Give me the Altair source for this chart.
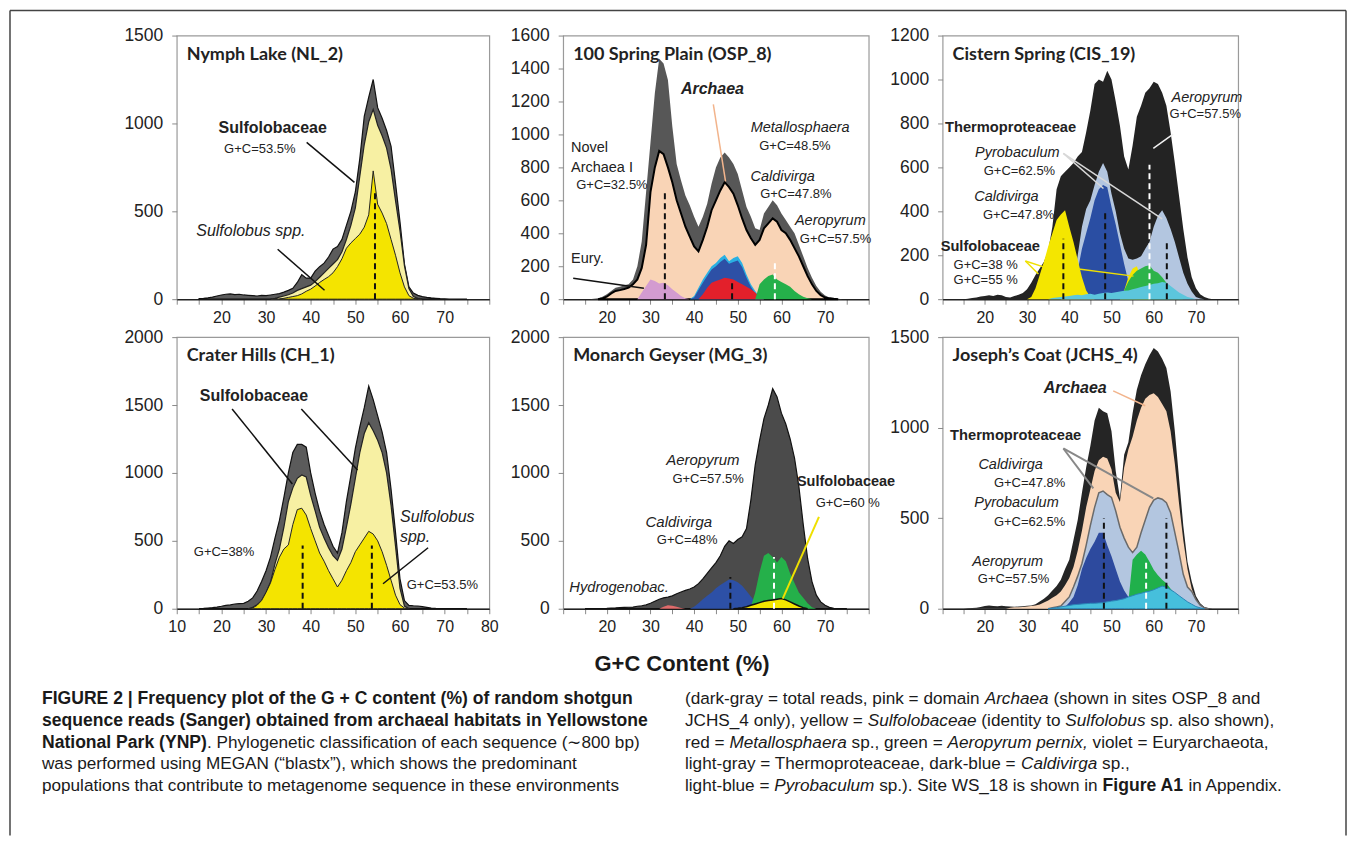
import altair as alt
import pandas as pd

FONT = "Liberation Sans"
TITLE_FONT = "Lato"

# ---------------- data: (first G+C %, counts at 1 % steps) ----------------
NL_TOTAL = (15, [3, 5, 8, 12, 18, 24, 28, 30, 26, 28, 24, 22, 20, 18, 22, 20, 24, 28, 32, 40,
                 50, 62, 95, 140, 120, 120, 160, 185, 205, 240, 285, 300, 340, 420, 500, 610, 800,
                 1040, 1150, 1250, 1090, 1030, 960, 870, 660, 440, 200, 70, 35, 22, 15, 10, 7, 5,
                 3, 2, 1, 1, 0, 0, 0])
NL_SULFOLOBACEAE = (31, [0, 5, 12, 18, 25, 35, 50, 60, 70, 80, 100, 125, 150, 175, 200, 225, 270,
                         340, 420, 520, 700, 880, 1010, 1080, 990, 930, 860, 740, 560, 390, 190,
                         60, 15, 5, 0])
NL_SULFOLOBUS = (33, [0, 5, 10, 15, 20, 30, 45, 57, 75, 95, 112, 128, 150, 185, 230, 290, 320, 345,
                      370, 410, 480, 730, 540, 490, 430, 340, 250, 150, 70, 20, 5, 0])

OSP_TOTAL = (15, [0, 0, 2, 5, 15, 30, 50, 70, 75, 85, 90, 120, 200, 350, 650, 950, 1250, 1460,
                  1430, 1330, 1050, 820, 720, 630, 570, 500, 440, 500, 580, 700, 800, 860, 890, 860,
                  820, 760, 660, 560, 500, 430, 420, 520, 560, 600, 570, 520, 480, 440, 400, 330,
                  260, 190, 130, 80, 45, 22, 10, 5, 2, 0, 0])
OSP_ARCHAEA = (18, [0, 5, 15, 35, 50, 55, 62, 70, 90, 120, 190, 330, 650, 800, 900, 880, 800, 710,
                    600, 520, 440, 380, 320, 290, 360, 440, 540, 600, 660, 710, 680, 640, 570, 490,
                    420, 370, 330, 360, 430, 460, 490, 470, 420, 400, 360, 310, 260, 200, 140, 90,
                    50, 25, 10, 5, 2, 0])
OSP_EURY = (27, [0, 40, 80, 120, 110, 95, 100, 85, 60, 40, 20, 5, 0])
OSP_PYROBACULUM = (39, [0, 20, 70, 120, 160, 200, 220, 250, 270, 230, 250, 260, 220, 150, 90, 50,
                        15, 0])
OSP_CALDIVIRGA = (39, [0, 10, 55, 100, 140, 180, 200, 225, 245, 215, 225, 235, 195, 130, 75, 35,
                       10, 0])
OSP_METALLO = (41, [0, 30, 70, 100, 110, 120, 130, 125, 120, 105, 90, 75, 60, 40, 15, 0])
OSP_AEROPYRUM = (54, [0, 90, 120, 140, 150, 120, 105, 90, 75, 50, 30, 15, 5, 0])

CIS_TOTAL = (15, [0, 2, 5, 8, 12, 15, 18, 15, 20, 18, 10, 8, 15, 20, 28, 45, 75, 110, 140, 170,
                  220, 330, 500, 560, 580, 600, 620, 650, 670, 760, 860, 980, 1000, 990, 1040, 1000,
                  900, 790, 650, 590, 700, 830, 880, 940, 960, 990, 980, 940, 880, 760, 620, 470,
                  320, 190, 100, 50, 22, 10, 3, 0, 0])
CIS_THERMO = (38, [0, 5, 15, 80, 200, 330, 410, 450, 520, 580, 620, 580, 480, 400, 300, 230, 185,
                   180, 185, 195, 230, 260, 330, 380, 405, 370, 320, 260, 190, 120, 70, 35, 10, 3, 0])
CIS_CALDIVIRGA = (39, [0, 20, 60, 130, 230, 300, 370, 450, 500, 520, 510, 420, 340, 250, 160, 80,
                       30, 0])
CIS_SULFO = (30, [0, 10, 50, 110, 170, 240, 300, 360, 385, 405, 330, 260, 180, 100, 40, 10, 0, 0,
                  0, 0, 0, 0, 0, 40, 100, 140, 150, 100, 30, 0])
CIS_AEROPYRUM = (52, [0, 40, 80, 110, 130, 140, 150, 155, 130, 120, 100, 75, 50, 25, 5, 0])
CIS_PYROBACULUM = (35, [0, 5, 8, 10, 12, 15, 18, 20, 18, 22, 25, 20, 25, 28, 30, 28, 32, 35, 38,
                        40, 45, 50, 55, 60, 65, 70, 72, 78, 75, 60, 45, 30, 20, 10, 5, 0])

CH_TOTAL = (15, [0, 2, 5, 8, 12, 18, 25, 28, 35, 38, 40, 55, 80, 130, 200, 280, 380, 520, 650, 820,
                 1000, 1150, 1210, 1210, 1190, 1000, 850, 720, 620, 540, 460, 410, 560, 790, 980,
                 1180, 1340, 1480, 1640, 1540, 1420, 1300, 1150, 880, 560, 220, 60, 25, 22, 20, 15,
                 10, 5, 2, 0, 0, 0, 0, 0, 0, 0])
CH_SULFOLOBACEAE = (26, [0, 10, 30, 60, 120, 196, 330, 440, 600, 790, 890, 960, 985, 970, 834, 720,
                         600, 520, 450, 390, 356, 440, 600, 770, 960, 1150, 1290, 1370, 1310, 1240,
                         1150, 1000, 760, 460, 150, 20, 0])
CH_SULFOLOBUS = (26, [0, 5, 25, 60, 120, 190, 290, 380, 440, 470, 620, 730, 740, 690, 590, 500, 410,
                      350, 280, 220, 160, 210, 280, 340, 420, 470, 520, 570, 550, 500, 420, 320,
                      210, 100, 30, 5, 0])

MG_TOTAL = (15, [0, 0, 0, 0, 0, 2, 5, 6, 8, 10, 11, 12, 18, 22, 28, 40, 55, 70, 80, 85, 95, 110,
                 123, 135, 145, 160, 185, 220, 260, 300, 340, 390, 460, 500, 480, 510, 530, 590, 800,
                 1060, 1240, 1400, 1500, 1620, 1560, 1440, 1360, 1250, 1110, 900, 620, 370, 200,
                 100, 50, 25, 10, 3, 0, 0, 0])
MG_HYDROGENOBAC = (32, [0, 15, 25, 22, 15, 5, 0])
MG_CALDIVIRGA = (39, [0, 15, 40, 70, 95, 120, 150, 175, 195, 215, 210, 195, 170, 130, 90, 50, 20,
                      5, 0])
MG_AEROPYRUM = (52, [0, 15, 120, 270, 390, 410, 380, 340, 380, 350, 260, 190, 120, 80, 40, 10, 0])
MG_SULFO = (49, [0, 3, 8, 15, 25, 35, 45, 55, 60, 65, 70, 75, 65, 50, 35, 20, 8, 0])

JC_TOTAL = (15, [0, 2, 4, 5, 10, 15, 18, 15, 14, 16, 14, 12, 11, 12, 14, 16, 18, 25, 40, 55, 75,
                 100, 125, 160, 220, 270, 380, 490, 640, 780, 900, 1040, 1110, 1090, 1080, 980, 760,
                 610, 850, 920, 1080, 1210, 1290, 1350, 1400, 1440, 1420, 1380, 1330, 1200, 980,
                 720, 460, 260, 150, 70, 30, 10, 3, 0, 0])
JC_ARCHAEA = (25, [0, 5, 8, 8, 10, 12, 15, 18, 24, 35, 45, 60, 75, 95, 130, 170, 230, 320, 430, 560,
                   660, 760, 820, 840, 830, 770, 640, 590, 780, 880, 950, 1040, 1110, 1160, 1180,
                   1190, 1170, 1130, 1090, 980, 800, 580, 380, 220, 110, 50, 15, 5, 0])
JC_THERMO = (35, [0, 5, 10, 15, 40, 65, 120, 180, 250, 350, 460, 560, 640, 650, 630, 615, 540, 450,
                  390, 340, 310, 340, 420, 490, 560, 600, 612, 605, 585, 530, 420, 310, 190, 120,
                  95, 50, 20, 5, 0])
JC_CALDIVIRGA = (38, [0, 10, 35, 65, 130, 220, 280, 330, 370, 420, 420, 350, 290, 220, 150, 100, 65,
                      30, 0])
JC_AEROPYRUM = (53, [0, 40, 270, 300, 320, 300, 260, 215, 185, 160, 140, 110, 80, 50, 20, 0])
JC_PYROBACULUM = (35, [0, 3, 6, 10, 14, 18, 22, 24, 26, 28, 30, 30, 32, 33, 38, 42, 45, 50, 55, 65,
                       72, 80, 85, 92, 97, 105, 115, 125, 118, 105, 90, 72, 55, 38, 25, 12, 5, 0])

TITLES = ["Nymph Lake (NL_2)", "100 Spring Plain (OSP_8)", "Cistern Spring (CIS_19)",
          "Crater Hills (CH_1)", "Monarch Geyser (MG_3)", "Joseph\u2019s Coat (JCHS_4)"]

# annotations: (text, x, y, size, weight, style, align)
NL_NOTES = [("Sulfolobaceae", 31.5, 972, 16, "bold", "normal", "center"),
            ("G+C=53.5%", 28.6, 852, 13, "normal", "normal", "center"),
            ("Sulfolobus spp.", 26.6, 386, 16, "normal", "italic", "center")]
OSP_NOTES = [("Archaea", 44.2, 1273, 16, "bold", "italic", "center"),
             ("Novel", 11.8, 915, 14.5, "normal", "normal", "left"),
             ("Archaea I", 11.8, 794, 14.5, "normal", "normal", "left"),
             ("G+C=32.5%", 13.0, 690, 13, "normal", "normal", "left"),
             ("Eury.", 11.8, 242, 14.5, "normal", "normal", "left"),
             ("Metallosphaera", 64.3, 1036, 14.5, "normal", "italic", "center"),
             ("G+C=48.5%", 63.1, 927, 13, "normal", "normal", "center"),
             ("Caldivirga", 60.3, 739, 14.5, "normal", "italic", "center"),
             ("G+C=47.8%", 63.3, 636, 13, "normal", "normal", "center"),
             ("Aeropyrum", 71.2, 473, 14.5, "normal", "italic", "center"),
             ("G+C=57.5%", 72.4, 364, 13, "normal", "normal", "center")]
CIS_NOTES = [("Aeropyrum", 72.6, 916, 14.5, "normal", "italic", "center"),
             ("G+C=57.5%", 72.2, 843, 13, "normal", "normal", "center"),
             ("Thermoproteaceae", 26.1, 779, 14.7, "bold", "normal", "center"),
             ("Pyrobaculum", 27.7, 664, 14.5, "normal", "italic", "center"),
             ("G+C=62.5%", 28.2, 582, 13, "normal", "normal", "center"),
             ("Caldivirga", 25.1, 463, 14.5, "normal", "italic", "center"),
             ("G+C=47.8%", 28.0, 385, 13, "normal", "normal", "center"),
             ("Sulfolobaceae", 21.3, 238, 14.7, "bold", "normal", "center"),
             ("G+C=38 %", 20.2, 156, 13, "normal", "normal", "center"),
             ("G+C=55 %", 20.2, 87, 13, "normal", "normal", "center")]
CH_NOTES = [("Sulfolobaceae", 27.3, 1566, 16, "bold", "normal", "center"),
            ("G+C=38%", 20.6, 419, 13, "normal", "normal", "center"),
            ("Sulfolobus", 60.0, 676, 16, "normal", "italic", "left"),
            ("spp.", 60.0, 529, 16, "normal", "italic", "left"),
            ("G+C=53.5%", 69.5, 176, 13, "normal", "normal", "center")]
MG_NOTES = [("Aeropyrum", 42.0, 1096, 15, "normal", "italic", "center"),
            ("G+C=57.5%", 43.2, 956, 13, "normal", "normal", "center"),
            ("Caldivirga", 36.5, 640, 15, "normal", "italic", "center"),
            ("G+C=48%", 38.4, 507, 13, "normal", "normal", "center"),
            ("Hydrogenobac.", 22.8, 154, 14.7, "normal", "italic", "center"),
            ("Sulfolobaceae", 74.8, 934, 14.5, "bold", "normal", "center"),
            ("G+C=60 %", 75.2, 779, 13, "normal", "normal", "center")]
JC_NOTES = [("Archaea", 41.4, 1220, 16, "bold", "italic", "center"),
            ("Thermoproteaceae", 27.3, 956, 14.7, "bold", "normal", "center"),
            ("Caldivirga", 26.1, 791, 14.5, "normal", "italic", "center"),
            ("G+C=47.8%", 30.6, 692, 13, "normal", "normal", "center"),
            ("Pyrobaculum", 27.5, 582, 14.5, "normal", "italic", "center"),
            ("G+C=62.5%", 30.6, 478, 13, "normal", "normal", "center"),
            ("Aeropyrum", 25.4, 258, 14.5, "normal", "italic", "center"),
            ("G+C=57.5%", 26.8, 165, 13, "normal", "normal", "center")]

# leader lines: (x, y, x2, y2, colour, width)
NL_LEADERS = [(39.1, 892, 49.8, 665, "#111111", 1.5), (32.6, 284, 43.1, 51, "#111111", 1.5)]
OSP_LEADERS = [(44.4, 1182, 47.2, 715, "#f2b48c", 1.5), (12.3, 127, 28.5, 67, "#111111", 1.5)]
CIS_LEADERS = [(64.6, 751, 59.9, 687, "#f2f2f2", 1.5), (38.6, 664, 48.1, 504, "#d8d8d8", 1.5),
               (38.6, 664, 62.0, 366, "#d8d8d8", 1.5), (29.6, 174, 33.9, 147, "#efe000", 1.5),
               (29.6, 174, 32.7, 115, "#efe000", 1.5), (42.2, 137, 55.2, 105, "#efe000", 1.5)]
CH_LEADERS = [(22.4, 1471, 35.9, 919, "#111111", 1.5), (37.9, 1471, 50.5, 1022, "#111111", 1.5),
              (66.3, 449, 56.2, 184, "#111111", 1.5)]
MG_LEADERS = [(68.6, 676, 60.3, 74, "#efe000", 2)]
JC_LEADERS = [(50.4, 1203, 58.0, 1121, "#f2b48c", 1.5), (38.6, 885, 45.7, 665, "#888888", 2),
              (38.6, 885, 59.9, 610, "#888888", 2)]

# dashed G+C markers: (x, top, colour)
NL_DASHES = [(54.4, 607, "#111111")]
OSP_DASHES = [(33.3, 657, "#111111"), (48.7, 121, "#111111"), (58.5, 222, "#ffffff")]
CIS_DASHES = [(38.6, 275, "#111111"), (48.5, 397, "#111111"), (59.0, 612, "#ffffff"),
              (63.1, 268, "#111111")]
CH_DASHES = [(38.2, 466, "#111111"), (53.7, 466, "#111111")]
MG_DASHES = [(48.3, 233, "#111111"), (58.3, 380, "#ffffff")]
JC_DASHES = [(48.2, 500, "#111111"), (58.2, 262, "#ffffff"), (63.0, 500, "#111111")]

PANELS = [
    dict(title=TITLES[0], ymax=1500, ystep=500, width=313, height=264, full=False,
         series=[(NL_TOTAL, "#5b5b5b", "#111111", 1.2),
                 (NL_SULFOLOBACEAE, "#f7f0a3", "#222222", 1.2),
                 (NL_SULFOLOBUS, "#f4e400", "#222222", 1.0)],
         notes=NL_NOTES, leaders=NL_LEADERS, dashes=NL_DASHES),
    dict(title=TITLES[1], ymax=1600, ystep=200, width=306, height=264, full=False,
         series=[(OSP_TOTAL, "#575757", None, 0),
                 (OSP_ARCHAEA, "#f9d4b6", "#000000", 2.0),
                 (OSP_EURY, "#d39bd0", None, 0),
                 (OSP_PYROBACULUM, "#2ab0e3", None, 0),
                 (OSP_CALDIVIRGA, "#2d50a6", None, 0),
                 (OSP_METALLO, "#e3202b", None, 0),
                 (OSP_AEROPYRUM, "#25b04a", None, 0)],
         notes=OSP_NOTES, leaders=OSP_LEADERS, dashes=OSP_DASHES),
    dict(title=TITLES[2], ymax=1200, ystep=200, width=296, height=264, full=False,
         series=[(CIS_TOTAL, "#232323", None, 0),
                 (CIS_THERMO, "#b3c6e0", None, 0),
                 (CIS_CALDIVIRGA, "#2a4ea3", None, 0),
                 (CIS_SULFO, "#f4e600", None, 0),
                 (CIS_AEROPYRUM, "#2db34a", None, 0),
                 (CIS_PYROBACULUM, "#5cc6dc", None, 0)],
         notes=CIS_NOTES, leaders=CIS_LEADERS, dashes=CIS_DASHES),
    dict(title=TITLES[3], ymax=2000, ystep=500, width=313, height=272, full=True,
         series=[(CH_TOTAL, "#5b5b5b", "#111111", 1.2),
                 (CH_SULFOLOBACEAE, "#f7f0a3", "#222222", 1.2),
                 (CH_SULFOLOBUS, "#f4e400", "#222222", 1.0)],
         notes=CH_NOTES, leaders=CH_LEADERS, dashes=CH_DASHES),
    dict(title=TITLES[4], ymax=2000, ystep=500, width=306, height=272, full=False,
         series=[(MG_TOTAL, "#4b4b4b", "#111111", 1.2),
                 (MG_HYDROGENOBAC, "#e06b6b", None, 0),
                 (MG_CALDIVIRGA, "#2d50a6", None, 0),
                 (MG_AEROPYRUM, "#25b04a", None, 0),
                 (MG_SULFO, "#f4e600", "#111111", 1.5)],
         notes=MG_NOTES, leaders=MG_LEADERS, dashes=MG_DASHES),
    dict(title=TITLES[5], ymax=1500, ystep=500, width=296, height=272, full=False,
         series=[(JC_TOTAL, "#252525", None, 0),
                 (JC_ARCHAEA, "#f9d4b6", None, 0),
                 (JC_THERMO, "#b3c6e0", "#6a6a6a", 1.5),
                 (JC_CALDIVIRGA, "#2d4a9e", None, 0),
                 (JC_AEROPYRUM, "#20b04b", None, 0),
                 (JC_PYROBACULUM, "#46bfdc", "#2a86b8", 1.0)],
         notes=JC_NOTES, leaders=JC_LEADERS, dashes=JC_DASHES),
]


def make_panel(p):
    if p["full"]:
        lab = "datum.value % 10 === 0 ? datum.label : ''"
    else:
        lab = "(datum.value % 10 === 0 && datum.value >= 20 && datum.value <= 70) ? datum.label : ''"
    xaxis = alt.Axis(values=list(range(10, 81, 5)), labelExpr=lab, title=None, grid=False,
                     tickSize=5, tickColor="#8a8a8a", domainColor="#222222", domainWidth=1.5,
                     labelFontSize=16, labelFont=FONT, labelColor="#222222", labelPadding=5,
                     labelFlush=False, format="d")
    yaxis = alt.Axis(values=list(range(0, p["ymax"] + 1, p["ystep"])), title=None, grid=False,
                     tickSize=5, tickColor="#8a8a8a", domain=False, labelFontSize=17.5,
                     labelFont=FONT, labelColor="#222222", labelPadding=9, format="d")
    xs = alt.Scale(domain=[10, 80], nice=False, zero=False)
    ys = alt.Scale(domain=[0, p["ymax"]], nice=False)

    def X(f):
        return alt.X(f + ":Q", scale=xs, axis=xaxis)

    def Y(f):
        return alt.Y(f + ":Q", scale=ys, axis=yaxis)

    layers = []
    for (x0, vals), fill, stroke, sw in p["series"]:
        df = pd.DataFrame({"x": [x0 + i for i in range(len(vals))], "y": vals})
        mk = dict(color=fill, opacity=1, interpolate="linear")
        if stroke:
            mk.update(stroke=stroke, strokeWidth=sw)
        layers.append(alt.Chart(df).mark_area(**mk).encode(x=X("x"), y=Y("y")))

    dd = pd.DataFrame([{"x": x, "y": 0, "y2": t, "c": c} for x, t, c in p["dashes"]])
    layers.append(alt.Chart(dd).mark_rule(strokeDash=[6, 4], strokeWidth=2).encode(
        x=X("x"), y=Y("y"), y2="y2:Q", color=alt.Color("c:N", scale=None)))

    ld = pd.DataFrame([{"x": a, "y": b, "x2": c, "y2": d, "c": col, "w": w}
                       for a, b, c, d, col, w in p["leaders"]])
    layers.append(alt.Chart(ld).mark_rule().encode(
        x=X("x"), y=Y("y"), x2="x2:Q", y2="y2:Q", color=alt.Color("c:N", scale=None),
        strokeWidth=alt.StrokeWidth("w:Q", scale=None)))

    for t, x, y, size, weight, style, align in p["notes"]:
        nd = pd.DataFrame({"x": [x], "y": [y], "t": [t]})
        layers.append(alt.Chart(nd).mark_text(
            font=FONT, fontSize=size, fontWeight=weight, fontStyle=style, align=align,
            baseline="middle", color="#222222").encode(x=X("x"), y=Y("y"), text="t:N"))

    td = pd.DataFrame({"t": [p["title"]]})
    layers.append(alt.Chart(td).mark_text(
        font=TITLE_FONT, fontSize=18, fontWeight="bold", align="left", baseline="middle",
        color="#222222").encode(x=alt.value(10), y=alt.value(19), text="t:N"))

    return alt.layer(*layers).properties(width=p["width"], height=p["height"])


# ---------------- caption ----------------
W_REG = {" ": 278, "!": 278, '"': 355, "%": 889, "&": 667, "'": 191, "(": 333, ")": 333,
         "+": 584, ",": 278, "-": 333, ".": 278, "/": 278, ":": 278, ";": 278, "=": 584,
         "_": 556, "|": 260, "\u223c": 584, "\u201c": 333, "\u201d": 333,
         "A": 667, "B": 667, "C": 722, "D": 722, "E": 667, "F": 611, "G": 778, "H": 722,
         "I": 278, "J": 500, "K": 667, "L": 556, "M": 833, "N": 722, "O": 778, "P": 667,
         "Q": 778, "R": 722, "S": 667, "T": 611, "U": 722, "V": 667, "W": 944, "X": 667,
         "Y": 667, "Z": 611, "a": 556, "b": 556, "c": 500, "d": 556, "e": 556, "f": 278,
         "g": 556, "h": 556, "i": 222, "j": 222, "k": 500, "l": 222, "m": 833, "n": 556,
         "o": 556, "p": 556, "q": 556, "r": 333, "s": 500, "t": 278, "u": 556, "v": 500,
         "w": 722, "x": 500, "y": 500, "z": 500}
W_BOLD = {" ": 278, "!": 333, '"': 474, "%": 889, "(": 333, ")": 333, "+": 584, ",": 278,
          "-": 333, ".": 278, ":": 333, "=": 584, "_": 556, "|": 280,
          "A": 722, "B": 722, "C": 722, "D": 722, "E": 667, "F": 611, "G": 778, "H": 722,
          "I": 278, "J": 556, "K": 722, "L": 611, "M": 833, "N": 722, "O": 778, "P": 667,
          "Q": 778, "R": 722, "S": 667, "T": 611, "U": 722, "V": 667, "W": 944, "X": 667,
          "Y": 667, "Z": 611, "a": 556, "b": 611, "c": 556, "d": 611, "e": 556, "f": 333,
          "g": 611, "h": 611, "i": 278, "j": 278, "k": 556, "l": 278, "m": 889, "n": 611,
          "o": 611, "p": 611, "q": 611, "r": 389, "s": 556, "t": 333, "u": 611, "v": 556,
          "w": 778, "x": 556, "y": 556, "z": 500}

CAPTION_LEFT = [
    [("FIGURE 2 | Frequency plot of the G + C content (%) of random shotgun", "b")],
    [("sequence reads (Sanger) obtained from archaeal habitats in Yellowstone", "b")],
    [("National Park (YNP)", "b"),
     (". Phylogenetic classification of each sequence (\u223c800 bp)", "n")],
    [("was performed using MEGAN (\u201cblastx\u201d), which shows the predominant", "n")],
    [("populations that contribute to metagenome sequence in these environments", "n")],
]
CAPTION_RIGHT = [
    [("(dark-gray = total reads, pink = domain ", "n"), ("Archaea", "i"),
     (" (shown in sites OSP_8 and", "n")],
    [("JCHS_4 only), yellow = ", "n"), ("Sulfolobaceae", "i"), (" (identity to ", "n"),
     ("Sulfolobus", "i"), (" sp. also shown),", "n")],
    [("red = ", "n"), ("Metallosphaera", "i"), (" sp., green = ", "n"),
     ("Aeropyrum pernix,", "i"), (" violet = Euryarchaeota,", "n")],
    [("light-gray = Thermoproteaceae, dark-blue = ", "n"), ("Caldivirga", "i"), (" sp.,", "n")],
    [("light-blue = ", "n"), ("Pyrobaculum", "i"), (" sp.). Site WS_18 is shown in ", "n"),
     ("Figure A1", "b"), (" in Appendix.", "n")],
]
X_TITLE = "G+C Content (%)"

CAP_SIZE = {"b": 17.6, "n": 17.2, "i": 17.2}
# caption block sits in grid cell (row 3, column 1); its origin is at page (175, 645)
CAP_W, CAP_H = 300, 189
FRAME_L, FRAME_R, FRAME_T = -167, 1171, -637


def tw(s, kind):
    t = W_BOLD if kind == "b" else W_REG
    return sum(t.get(ch, 556) for ch in s) * CAP_SIZE[kind] / 1000.0


def build_lines(lines, x0, y0, dy):
    rows = []
    for i, segs in enumerate(lines):
        x = x0
        for text, kind in segs:
            lead = len(text) - len(text.lstrip(" "))
            rows.append(dict(x=x + tw(" " * lead, kind), y=y0 + i * dy,
                             t=text.strip(" "), kind=kind))
            x += tw(text, kind)
    return rows


cap_rows = build_lines(CAPTION_LEFT, -135, 52, 22) + build_lines(CAPTION_RIGHT, 509, 52, 22)
cap_df = pd.DataFrame(cap_rows)
cap_layers = []
for kind, weight, style in [("b", "bold", "normal"), ("n", "normal", "normal"),
                            ("i", "normal", "italic")]:
    sub = cap_df[cap_df["kind"] == kind]
    cap_layers.append(alt.Chart(sub).mark_text(
        font=FONT, fontSize=CAP_SIZE[kind], fontWeight=weight, fontStyle=style, align="left",
        baseline="middle", color="#1a1a1a").encode(
        x=alt.X("x:Q", scale=None, axis=None), y=alt.Y("y:Q", scale=None, axis=None),
        text="t:N"))

xt = pd.DataFrame({"x": [506], "y": [17], "t": [X_TITLE]})
cap_layers.append(alt.Chart(xt).mark_text(
    font=FONT, fontSize=22, fontWeight="bold", align="center", baseline="middle",
    color="#1a1a1a").encode(x=alt.X("x:Q", scale=None, axis=None),
                            y=alt.Y("y:Q", scale=None, axis=None), text="t:N"))

frame = pd.DataFrame([
    {"x": FRAME_L, "x2": FRAME_L, "y": FRAME_T, "y2": CAP_H},
    {"x": FRAME_L, "x2": FRAME_R, "y": FRAME_T, "y2": FRAME_T},
    {"x": FRAME_R, "x2": FRAME_R, "y": FRAME_T, "y2": CAP_H},
])
cap_layers.append(alt.Chart(frame).mark_rule(color="#444444", strokeWidth=1.5).encode(
    x=alt.X("x:Q", scale=None, axis=None), x2="x2:Q",
    y=alt.Y("y:Q", scale=None, axis=None), y2="y2:Q"))

caption = alt.layer(*cap_layers).properties(
    width=CAP_W, height=CAP_H, view=alt.ViewBackground(stroke="transparent"))

chart = alt.concat(*[make_panel(p) for p in PANELS], caption, columns=3,
                   spacing={"row": 38, "column": 74}, bounds="flush").properties(
    padding=0, background="white"
).configure(font=FONT).configure_view(stroke="#9a9a9a", strokeWidth=1.2)

chart.save("out.html", embed_options={"renderer": "svg", "actions": False})
